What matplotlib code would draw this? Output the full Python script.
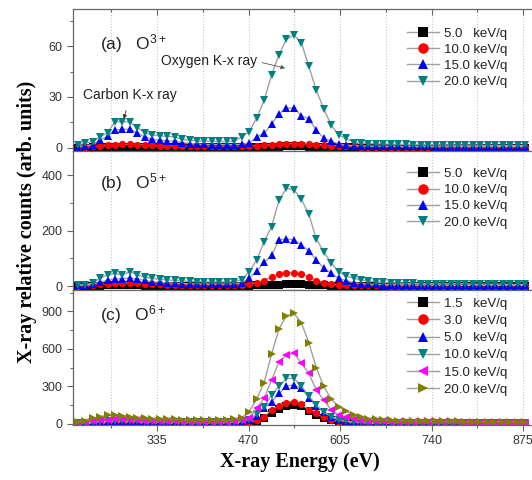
import matplotlib
matplotlib.use("Agg")
import matplotlib.pyplot as plt
from matplotlib.ticker import FixedLocator, NullFormatter, MultipleLocator

# X-ray energy bins (eV)
energy = [218, 229, 240, 251, 262, 273, 284, 295, 306, 317, 328, 339, 350, 361, 372, 383,
          394, 405, 416, 427, 438, 449, 460, 471, 482, 493, 504, 515, 526, 537, 548, 559,
          570, 581, 592, 603, 614, 625, 636, 647, 658, 669, 680, 691, 702, 713, 724, 735,
          746, 757, 768, 779, 790, 801, 812, 823, 834, 845, 856, 867, 878]

x_major = [335, 470, 605, 740, 875]
x_minor = [267.5, 402.5, 537.5, 672.5, 807.5]

# (a) O3+
a_labels = ["5.0   keV/q", "10.0 keV/q", "15.0 keV/q", "20.0 keV/q"]
a_5 = [0.2, 0.2, 0.3, 0.4, 0.5, 0.6, 0.6, 0.6, 0.5, 0.5, 0.4, 0.4, 0.4, 0.3, 0.3, 0.3,
       0.3, 0.3, 0.3, 0.3, 0.3, 0.3, 0.3, 0.4, 0.5, 0.6, 0.7, 0.8, 0.9, 0.9, 0.9, 0.8,
       0.7, 0.5, 0.4, 0.3, 0.3, 0.3, 0.2, 0.2, 0.2, 0.2, 0.2, 0.2, 0.2, 0.2, 0.2, 0.2,
       0.2, 0.2, 0.2, 0.2, 0.2, 0.2, 0.2, 0.2, 0.2, 0.2, 0.2, 0.2, 0.2]
a_10 = [0.5, 0.6, 0.9, 1.3, 1.7, 2.0, 2.1, 2.1, 2.0, 1.8, 1.5, 1.4, 1.3, 1.2, 1.1, 1.0,
        1.0, 0.9, 0.9, 0.9, 0.9, 0.9, 1.0, 1.1, 1.3, 1.6, 1.9, 2.2, 2.5, 2.6, 2.5, 2.3,
        2.0, 1.7, 1.4, 1.2, 1.0, 0.9, 0.8, 0.8, 0.7, 0.7, 0.7, 0.7, 0.6, 0.6, 0.6, 0.6,
        0.6, 0.6, 0.6, 0.6, 0.6, 0.6, 0.6, 0.6, 0.6, 0.6, 0.6, 0.6, 0.6]
a_15 = [0.8, 1.2, 2.0, 4.5, 7.0, 10.5, 11.0, 11.0, 8.8, 6.6, 5.0, 4.5, 4.2, 4.0, 3.2, 2.6,
        2.3, 2.1, 2.0, 2.0, 2.0, 2.0, 2.2, 2.8, 6.6, 8.6, 14.0, 20.0, 23.5, 23.5, 19.0, 17.0,
        10.5, 5.7, 4.0, 2.4, 1.5, 1.3, 1.2, 1.1, 1.0, 1.0, 1.0, 0.9, 0.9, 0.9, 0.9, 0.9,
        0.8, 0.8, 0.8, 0.8, 0.8, 0.8, 0.8, 0.8, 0.8, 0.8, 0.8, 0.8, 0.8]
a_20 = [1.7, 2.9, 3.7, 6.6, 9.0, 15.5, 15.5, 15.5, 12.0, 9.0, 7.6, 7.2, 6.8, 6.5, 5.0, 4.5,
        4.2, 4.0, 3.9, 3.8, 3.8, 3.9, 6.6, 9.6, 17.6, 28.0, 43.0, 55.0, 64.0, 66.5, 62.0, 48.0,
        34.0, 23.0, 13.5, 7.6, 5.7, 3.1, 2.8, 2.6, 2.5, 2.4, 2.3, 2.2, 2.1, 2.0, 2.0, 1.9,
        1.9, 1.8, 1.8, 1.7, 1.7, 1.7, 1.6, 1.6, 1.6, 1.5, 1.5, 1.5, 1.5]

# (b) O5+
b_labels = ["5.0   keV/q", "10.0 keV/q", "15.0 keV/q", "20.0 keV/q"]
b_5 = [0.5, 0.6, 1, 1.5, 2, 2.5, 2.5, 2.5, 2, 1.8, 1.5, 1.3, 1.2, 1.1, 1, 1,
       1, 1, 1, 1, 1, 1, 1.2, 1.5, 2, 3, 4, 5, 6, 6, 5.5, 4.5,
       3, 2, 1.5, 1, 0.8, 0.7, 0.6, 0.6, 0.5, 0.5, 0.5, 0.5, 0.5, 0.5, 0.5, 0.5,
       0.5, 0.5, 0.5, 0.5, 0.5, 0.5, 0.5, 0.5, 0.5, 0.5, 0.5, 0.5, 0.5]
b_10 = [1, 2, 3, 6, 9, 11, 12, 12, 11, 9, 7, 6, 5, 5, 4, 4,
        4, 4, 4, 4, 4, 4, 5, 8, 12, 19, 34, 43, 48, 48, 43, 31,
        19, 11, 7, 4, 3, 2, 2, 2, 2, 2, 1.5, 1.5, 1.5, 1.5, 1.5, 1.5,
        1.5, 1.5, 1.5, 1.5, 1.5, 1.5, 1.5, 1.5, 1.5, 1.5, 1.5, 1.5, 1.5]
b_15 = [2, 3, 6, 14, 20, 25, 27, 28, 25, 20, 16, 13, 11, 10, 9, 8,
        7, 7, 7, 7, 7, 8, 12, 28, 55, 85, 110, 166, 170, 166, 148, 127,
        94, 64, 46, 28, 19, 12, 9, 7, 6, 5, 5, 5, 4, 4, 4, 4,
        4, 3, 3, 3, 3, 3, 3, 3, 3, 3, 3, 3, 3]
b_20 = [4, 5, 10, 28, 40, 46, 40, 52, 40, 31, 28, 24, 22, 20, 18, 17,
        16, 15, 15, 15, 15, 16, 22, 52, 94, 160, 214, 310, 352, 346, 312, 259,
        169, 124, 82, 52, 36, 28, 22, 18, 15, 13, 12, 11, 10, 10, 9, 9,
        9, 8, 8, 8, 8, 7, 7, 7, 7, 7, 6, 6, 6]

# (c) O6+
c_labels = ["1.5   keV/q", "3.0   keV/q", "5.0   keV/q", "10.0 keV/q", "15.0 keV/q", "20.0 keV/q"]
c_1_5 = [1, 2, 3, 4, 5, 6, 6, 6, 5, 5, 4, 4, 4, 4, 4, 4,
         4, 4, 4, 4, 4, 4, 6, 10, 22, 45, 85, 120, 144, 155, 140, 100,
         70, 45, 28, 15, 9, 6, 5, 4, 3, 3, 3, 3, 3, 3, 3, 3,
         3, 3, 3, 3, 3, 3, 3, 3, 3, 3, 3, 3, 3]
c_3 = [2, 3, 4, 6, 8, 9, 9, 9, 8, 7, 6, 6, 5, 5, 5, 5,
       5, 5, 5, 5, 5, 6, 8, 14, 30, 59, 112, 144, 170, 179, 160, 112,
       85, 53, 35, 19, 12, 8, 6, 5, 4, 4, 4, 3, 3, 3, 3, 3,
       3, 3, 3, 3, 3, 3, 3, 3, 3, 3, 3, 3, 3]
c_5 = [4, 6, 9, 13, 16, 18, 18, 17, 15, 14, 13, 12, 11, 10, 10, 9,
       9, 9, 9, 9, 10, 12, 16, 28, 65, 125, 179, 245, 304, 312, 285, 210,
       140, 95, 59, 35, 22, 15, 11, 9, 8, 7, 7, 6, 6, 6, 5, 5,
       5, 5, 5, 5, 4, 4, 4, 4, 4, 4, 4, 4, 4]
c_10 = [6, 8, 12, 18, 22, 25, 24, 23, 21, 19, 17, 16, 15, 14, 13, 13,
        12, 12, 12, 12, 13, 15, 20, 35, 80, 139, 232, 304, 365, 365, 304, 225,
        150, 95, 58, 35, 22, 16, 12, 10, 9, 8, 8, 7, 7, 7, 6, 6,
        6, 6, 6, 5, 5, 5, 5, 5, 5, 5, 5, 5, 5]
c_15 = [10, 14, 20, 28, 34, 38, 36, 34, 30, 27, 25, 23, 21, 20, 19, 18,
        17, 17, 16, 16, 17, 20, 28, 50, 125, 205, 352, 498, 552, 565, 485, 405,
        272, 192, 112, 72, 53, 40, 32, 27, 23, 20, 18, 17, 16, 15, 14, 13,
        13, 12, 12, 12, 11, 11, 11, 10, 10, 10, 10, 10, 10]
c_20 = [19, 27, 45, 59, 70, 72, 64, 56, 50, 46, 43, 41, 39, 37, 35, 33,
        32, 31, 30, 30, 32, 38, 50, 99, 200, 330, 560, 760, 866, 885, 810, 650,
        450, 300, 200, 139, 104, 72, 53, 42, 36, 32, 29, 27, 25, 24, 23, 22,
        21, 21, 20, 20, 19, 19, 19, 18, 18, 18, 17, 17, 17]

colors6 = ["#000000", "#ff0000", "#0000ff", "#008080", "#ff00ff", "#808000"]
markers6 = ["s", "o", "^", "v", "<", ">"]

sans = ["Liberation Sans", "DejaVu Sans"]
serif = ["Liberation Serif", "DejaVu Serif"]
plt.rcParams["font.family"] = sans
plt.rcParams["mathtext.fontset"] = "custom"
plt.rcParams["mathtext.rm"] = "Liberation Sans"
plt.rcParams["mathtext.it"] = "Liberation Sans:italic"

fig = plt.figure(figsize=(5.32, 4.8), dpi=100)
left, width = 0.1372, 0.8816
ax_a = fig.add_axes([left, 0.6854, width, 0.2958])
ax_b = fig.add_axes([left, 0.3958, width, 0.2896])
ax_c = fig.add_axes([left, 0.1146, width, 0.28125])

panels = [
    (ax_a, [a_5, a_10, a_15, a_20], a_labels, [0, 1, 2, 3], (-1.8, 81.8), 30, 15,
     "(a)   O$^{3+}$", 0.76, 0.87, 0.3),
    (ax_b, [b_5, b_10, b_15, b_20], b_labels, [0, 1, 2, 3], (-14.4, 486.5), 200, 100,
     "(b)   O$^{5+}$", 0.77, 0.88, 0.3),
    (ax_c, [c_1_5, c_3, c_5, c_10, c_15, c_20], c_labels, [0, 1, 2, 3, 4, 5], (-8, 1072), 300, 150,
     "(c)   O$^{6+}$", 0.815, 0.945, 0.38),
]

for ax, series, labels, idx, ylim, major, minor, tag, tag_y, leg_y, leg_sp in panels:
    for s, lab, k in zip(series, labels, idx):
        ax.plot(energy, s, color="#a0a0a0", lw=1.0, marker=markers6[k], ms=5.2,
                mfc=colors6[k], mec=colors6[k], mew=0, label=lab)
    ax.set_xlim(211, 903)
    ax.set_ylim(*ylim)
    ax.xaxis.set_major_locator(FixedLocator(x_major))
    ax.xaxis.set_minor_locator(FixedLocator(x_minor))
    ax.yaxis.set_major_locator(MultipleLocator(major))
    ax.yaxis.set_minor_locator(MultipleLocator(minor))
    ax.grid(True, axis="x", which="both", color="#c8c8c8", linestyle=":", lw=0.8)
    ax.set_axisbelow(True)
    for sp in ax.spines.values():
        sp.set_color("#666666")
        sp.set_linewidth(0.9)
    ax.tick_params(axis="both", which="both", direction="out", colors="#666666",
                   labelcolor="#333333", labelsize=9, width=0.8)
    ax.tick_params(which="major", length=4)
    ax.tick_params(which="minor", length=2.5)
    ax.text(0.058, tag_y, tag, transform=ax.transAxes, fontsize=12.5,
            color="#222222", va="center", ha="left")
    ax.legend(loc="upper left", bbox_to_anchor=(0.712, leg_y), frameon=False,
              fontsize=9.5, handlelength=2.4, handletextpad=0.4, labelspacing=leg_sp,
              borderpad=0, borderaxespad=0, labelcolor="#222222", markerscale=1.45)

ax_a.xaxis.set_major_formatter(NullFormatter())
ax_b.xaxis.set_major_formatter(NullFormatter())
ax_a.tick_params(axis="x", top=True, which="both", direction="in")

# annotations in panel (a)
ax_a.annotate("Carbon K-x ray", xy=(286, 17), xytext=(295, 31), fontsize=10,
              color="#222222", ha="center", va="center",
              arrowprops=dict(arrowstyle="-|>", color="#333333", lw=0.6,
                              mutation_scale=6, shrinkA=4, shrinkB=0))
ax_a.annotate("Oxygen K-x ray", xy=(524, 47), xytext=(482, 51), fontsize=10,
              color="#222222", ha="right", va="center",
              arrowprops=dict(arrowstyle="-|>", color="#555555", lw=0.6,
                              mutation_scale=6, shrinkA=2, shrinkB=0, relpos=(1, 0.5)))

fig.text(0.051, 0.5375, "X-ray relative counts (arb. units)", rotation=90,
         ha="center", va="center", fontsize=14.5, fontweight="bold", family=serif)
fig.text(0.564, 0.0375, "X-ray Energy (eV)", ha="center", va="center",
         fontsize=14.5, fontweight="bold", family=serif)

fig.savefig("out.png", dpi=100)
